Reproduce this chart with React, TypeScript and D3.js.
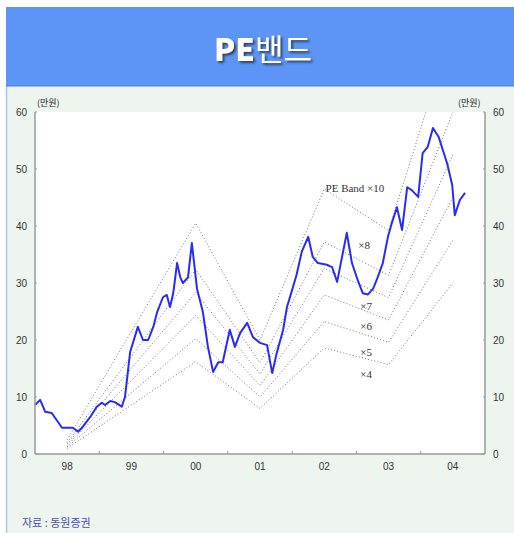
import React from "react";
import * as d3 from "d3";

// Stock price (만원), time as decimal year
const priceDates = [
  1998.0, 1998.08, 1998.16, 1998.26, 1998.42, 1998.59, 1998.67, 1998.73, 1998.86, 1998.96,
  1999.04, 1999.09, 1999.17, 1999.24, 1999.35, 1999.4, 1999.48, 1999.6, 1999.68, 1999.76,
  1999.84, 1999.9, 1999.99, 2000.05, 2000.1, 2000.15, 2000.21, 2000.26, 2000.3, 2000.38,
  2000.44, 2000.52, 2000.61, 2000.69, 2000.77, 2000.85, 2000.92, 2001.03, 2001.11, 2001.19,
  2001.3, 2001.39, 2001.5, 2001.61, 2001.69, 2001.76, 2001.86, 2001.92, 2002.0, 2002.07,
  2002.15, 2002.25, 2002.32, 2002.4, 2002.54, 2002.62, 2002.7, 2002.85, 2002.93, 2003.02,
  2003.1, 2003.18, 2003.26, 2003.33, 2003.41, 2003.49, 2003.55, 2003.63, 2003.71, 2003.79,
  2003.86, 2003.96, 2004.03, 2004.11, 2004.19, 2004.28, 2004.41, 2004.49, 2004.53, 2004.61,
  2004.69,
];
const priceValues = [
  8.6, 9.5, 7.4, 7.2, 4.6, 4.6, 3.9, 4.6, 6.5, 8.3,
  9.0, 8.6, 9.3, 9.1, 8.3, 10.0, 17.9, 22.3, 20.0, 20.0,
  22.3, 24.9, 27.5, 27.9, 25.8, 28.2, 33.5, 31.0, 30.0, 31.0,
  37.0, 29.0, 25.0, 18.8, 14.4, 16.1, 16.1, 21.8, 18.8, 21.2,
  23.0, 20.5, 19.5, 19.1, 14.2, 17.7, 21.8, 25.8, 28.8, 31.5,
  35.5, 38.1, 34.6, 33.5, 33.2, 32.8, 30.2, 38.8, 33.5, 30.5,
  28.2, 28.0, 29.0, 31.0, 33.5, 38.1, 40.5, 43.3, 39.3, 46.8,
  46.3, 45.1, 52.8, 53.9, 57.2, 55.6, 51.0, 47.2, 41.9, 44.6,
  45.8,
];

// EPS (만원) at mid-year, for PE bands
const bandYears = [1998.5, 2000.5, 2001.5, 2002.5, 2003.5, 2004.5];
const bandEps = [0.25, 4.05, 2.0, 4.65, 3.92, 7.5];
const bandMultiples = [10, 8, 7, 6, 5, 4];
const bandLabels = ["PE Band ×10", "×8", "×7", "×6", "×5", "×4"];

const yearCategories = [1998, 1999, 2000, 2001, 2002, 2003, 2004];
const yearLabels = ["98", "99", "00", "01", "02", "03", "04"];
const yTicks = [0, 10, 20, 30, 40, 50, 60];

const W = 514;
const H = 533;
const PL = 35;
const PR = 485;
const PT = 112;
const PB = 454;

export default function App() {
  const x = d3.scaleLinear().domain([1998, 2005]).range([PL, PR]);
  const y = d3.scaleLinear().domain([0, 60]).range([PB, PT]);

  const priceLine = d3
    .line<number>()
    .x((_, i) => x(priceDates[i]))
    .y((v) => y(v))
    .curve(d3.curveLinear);

  const bandLine = (m: number) =>
    d3
      .line<number>()
      .x((_, i) => x(bandYears[i]))
      .y((e) => y(e * m))(bandEps) as string;

  // label anchor positions (data space)
  const labelPos: [number, number][] = [
    [2002.52, 46.0],
    [2003.03, 36.0],
    [2003.06, 25.2],
    [2003.06, 21.7],
    [2003.06, 17.2],
    [2003.06, 13.3],
  ];

  const tickFont = "'Liberation Sans', Arial, sans-serif";

  return (
    <div style={{ position: "absolute", left: 0, top: 0 }}>
      <svg width={W} height={H} style={{ display: "block" }}>
        <defs>
          <clipPath id="plotClip">
            <rect x={PL} y={PT} width={PR - PL} height={PB - PT} />
          </clipPath>
          <filter id="titleShadow" x="-10%" y="-20%" width="130%" height="150%">
            <feDropShadow dx={2} dy={2} stdDeviation={0.8} floodColor="#2a2a2a" floodOpacity={0.8} />
          </filter>
        </defs>
        <rect x={0} y={0} width={W} height={H} fill="#ffffff" />
        {/* panel */}
        <rect x={6} y={86} width={W - 6} height={H - 86} fill="#eef5ee" />
        <line x1={6.5} y1={86} x2={6.5} y2={H} stroke="#a9c4ea" strokeWidth={1.5} />
        {/* banner */}
        <rect x={6} y={7} width={W - 6} height={79} fill="#5d95f6" />
        <line x1={6} y1={86} x2={W} y2={86} stroke="#4a7fdc" strokeWidth={1} />
        <text
          x={263}
          y={61}
          fill="#ffffff"
          fontFamily="'Noto Sans CJK KR', 'Noto Sans', sans-serif"
          fontSize={31}
          textAnchor="middle"
          filter="url(#titleShadow)"
        >
          <tspan fontWeight={900}>PE</tspan>
          <tspan fontWeight={400}>밴드</tspan>
        </text>

        {/* plot area */}
        <rect x={PL} y={PT} width={PR - PL} height={PB - PT} fill="#ffffff" />

        {/* PE bands */}
        <g clipPath="url(#plotClip)">
          {bandMultiples.map((m) => (
            <path
              key={m}
              d={bandLine(m)}
              fill="none"
              stroke="#666"
              strokeWidth={1}
              strokeDasharray="1,2.2"
              opacity={0.9}
            />
          ))}
        </g>

        {/* price line */}
        <path
          d={priceLine(priceValues) as string}
          fill="none"
          stroke="#2a2cf5"
          strokeWidth={2}
          strokeLinejoin="round"
        />

        {/* band labels */}
        <g fontFamily="'Liberation Serif', serif" fontSize={11} fill="#333">
          {bandLabels.map((lab, i) => (
            <text key={lab} x={x(labelPos[i][0])} y={y(labelPos[i][1])}>
              {lab}
            </text>
          ))}
        </g>

        {/* axes */}
        <g stroke="#9a9a9a" strokeWidth={1.5} fill="none">
          <line x1={PL} y1={PT} x2={PL} y2={PB} />
          <line x1={PR} y1={PT} x2={PR} y2={PB} />
          <line x1={PL} y1={PB} x2={PR} y2={PB} />
        </g>
        <g stroke="#9a9a9a" strokeWidth={1}>
          {yearCategories.slice(1).map((yr) => (
            <line key={yr} x1={x(yr)} x2={x(yr)} y1={PB} y2={PB - 3} />
          ))}
          {yTicks.map((t) => (
            <g key={t}>
              <line x1={PL} x2={PL + 2} y1={y(t)} y2={y(t)} />
              <line x1={PR - 2} x2={PR} y1={y(t)} y2={y(t)} />
            </g>
          ))}
        </g>
        <g fontFamily={tickFont} fontSize={10} fill="#333">
          {yTicks.map((t) => (
            <text key={"l" + t} x={27} y={y(t) + 4} textAnchor="end">
              {t}
            </text>
          ))}
          {yTicks.map((t) => (
            <text key={"r" + t} x={493} y={y(t) + 4} textAnchor="start">
              {t}
            </text>
          ))}
          {yearCategories.map((yr, i) => (
            <text key={yr} x={x(yr + 0.5)} y={470} textAnchor="middle">
              {yearLabels[i]}
            </text>
          ))}
        </g>
        <g fontFamily="'Noto Sans CJK KR', sans-serif" fontSize={9} fill="#222">
          <text x={37} y={106}>(만원)</text>
          <text x={458} y={106}>(만원)</text>
        </g>
        <text
          x={22}
          y={527}
          fontFamily="'Noto Sans CJK KR', sans-serif"
          fontSize={11}
          fill="#4b4fb8"
        >
          자료 : 동원증권
        </text>
      </svg>
    </div>
  );
}
